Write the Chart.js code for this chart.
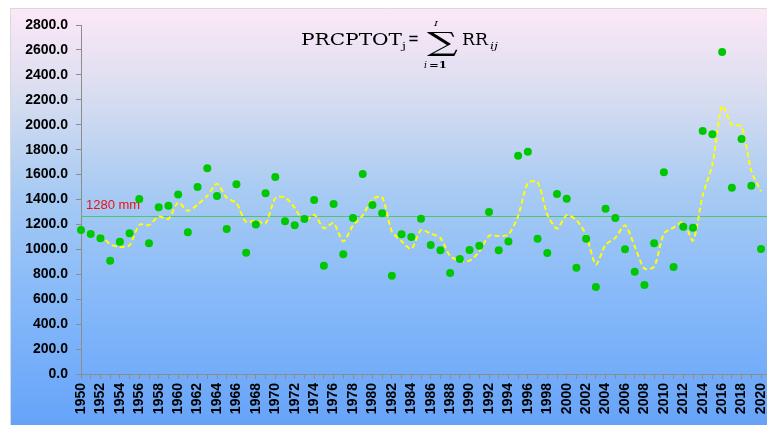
<!DOCTYPE html>
<html><head><meta charset="utf-8">
<script src="https://cdn.jsdelivr.net/npm/chart.js@4.4.0/dist/chart.umd.min.js"></script>
<style>html,body{margin:0;padding:0;background:#fff;overflow:hidden}#wrap{width:767px;height:425px;position:relative}</style>
</head><body><div id="wrap"><canvas id="c" width="767" height="425"></canvas></div>
<script>
const years = ['1950','1951','1952','1953','1954','1955','1956','1957','1958','1959',
'1960','1961','1962','1963','1964','1965','1966','1967','1968','1969',
'1970','1971','1972','1973','1974','1975','1976','1977','1978','1979',
'1980','1981','1982','1983','1984','1985','1986','1987','1988','1989',
'1990','1991','1992','1993','1994','1995','1996','1997','1998','1999',
'2000','2001','2002','2003','2004','2005','2006','2007','2008','2009',
'2010','2011','2012','2013','2014','2015','2016','2017','2018','2019','2020'];

const prcptot = [1155,1123,1089,909,1062,1129,1404,1048,1337,1350,
1441,1137,1500,1650,1428,1163,1522,973,1200,1450,
1580,1225,1193,1244,1396,869,1364,960,1252,1605,
1356,1289,789,1121,1099,1246,1035,992,810,923,
995,1029,1300,992,1064,1751,1784,1086,971,1444,
1407,853,1086,698,1326,1252,1000,821,714,1048,
1618,858,1182,1174,1950,1923,2583,1495,1885,1511,1003];

// 3-year moving average trend line
const movingAvg3 = [null,null,1122,1040,1020,1033,1198,1194,1263,1245,
1376,1309,1359,1429,1526,1414,1371,1219,1232,1208,
1410,1418,1333,1221,1278,1170,1210,1064,1192,1272,
1404,1417,1145,1066,1003,1155,1127,1091,946,908,
909,982,1108,1107,1119,1269,1533,1540,1280,1167,
1274,1235,1115,879,1037,1092,1193,1024,845,861,
1127,1175,1219,1071,1435,1682,2152,2000,1988,1630,1466];

const yTickValues = [0,200,400,600,800,1000,1200,1400,1600,1800,2000,2200,2400,2600,2800];
const meanValue = 1270;
const meanLabel = '1280 mm';

const bgPlugin = {
  id: 'bg',
  beforeDraw(chart) {
    const ctx = chart.ctx;
    ctx.save();
    ctx.fillStyle = '#ffffff';
    ctx.fillRect(0, 0, 767, 425);
    const g = ctx.createLinearGradient(0, 8, 0, 425);
    g.addColorStop(0, '#fde8f7');
    g.addColorStop(0.2, '#dadef0');
    g.addColorStop(0.45, '#a6caf3');
    g.addColorStop(0.7, '#86b9f9');
    g.addColorStop(1, '#66a3f8');
    ctx.fillStyle = g;
    ctx.fillRect(10, 8, 757, 417);
    ctx.strokeStyle = '#d9d9d9';
    ctx.lineWidth = 1;
    ctx.beginPath();
    ctx.moveTo(10.5, 425); ctx.lineTo(10.5, 8.5); ctx.lineTo(767, 8.5);
    ctx.stroke();
    ctx.restore();
  },
  beforeDatasetsDraw(chart) {
    const ctx = chart.ctx;
    const y = chart.scales.y.getPixelForValue(meanValue);
    const left = chart.chartArea.left;
    ctx.save();
    ctx.strokeStyle = '#4fc46c';
    ctx.lineWidth = 1.2;
    ctx.beginPath();
    ctx.moveTo(left, Math.round(y) + 0.5);
    ctx.lineTo(767, Math.round(y) + 0.5);
    ctx.stroke();
    const yb = chart.chartArea.bottom;
    ctx.strokeStyle = '#8c8c8c';
    ctx.lineWidth = 1;
    ctx.beginPath();
    ctx.moveTo(chart.chartArea.right, yb + 0.5);
    ctx.lineTo(767, yb + 0.5);
    ctx.stroke();
    ctx.fillStyle = '#ee1111';
    ctx.font = '13px "Liberation Sans", Arial, sans-serif';
    ctx.textBaseline = 'alphabetic';
    ctx.textAlign = 'left';
    ctx.fillText(meanLabel, left + 5, y - 7);
    ctx.restore();
  },
  afterDraw(chart) {
    const ctx = chart.ctx;
    ctx.save();
    ctx.fillStyle = '#000';
    ctx.textBaseline = 'alphabetic';
    ctx.textAlign = 'left';
    function fit(txt, x, y, w, font) {
      ctx.font = font;
      const m = ctx.measureText(txt).width;
      ctx.save();
      ctx.translate(x, y);
      ctx.scale(w / m, 1);
      ctx.fillText(txt, 0, 0);
      ctx.restore();
    }
    const serif = '"DejaVu Serif", "Liberation Serif", serif';
    fit('PRCPTOT', 301, 45, 101, '16px ' + serif);
    fit('j', 402, 49, 4, '10px ' + serif);
    fit('=', 408, 45, 11, '18px ' + serif);
    fit('\u2211', 427, 51, 31, '26px ' + serif);
    fit('I', 434, 26, 4, 'italic 8px ' + serif);
    fit('i', 424, 68, 3, 'italic 9px ' + serif);
    fit('=1', 429, 68, 18, 'bold 9px ' + serif);
    fit('RR', 462, 45, 26, '16px ' + serif);
    fit('ij', 490, 49, 8, 'italic 10px ' + serif);
    ctx.restore();
  }
};

new Chart(document.getElementById('c'), {
  data: {
    labels: years,
    datasets: [
      {
        type: 'line',
        label: 'PRCPTOT',
        data: prcptot,
        showLine: false,
        pointRadius: 4,
        pointHoverRadius: 4,
        pointBackgroundColor: '#00c800',
        pointBorderColor: '#00c800',
        pointBorderWidth: 0,
        order: 1
      },
      {
        type: 'line',
        label: '3-yr moving average',
        data: movingAvg3,
        borderColor: '#ffff00',
        borderWidth: 2,
        borderDash: [5, 3],
        pointRadius: 0,
        tension: 0.25,
        fill: false,
        spanGaps: false,
        order: 2
      }
    ]
  },
  options: {
    responsive: false,
    devicePixelRatio: 1,
    animation: false,
    layout: { padding: { left: 10, right: 6, top: 25, bottom: 0 } },
    plugins: { legend: { display: false }, tooltip: { enabled: false } },
    scales: {
      x: {
        type: 'category',
        offset: false,
        border: { display: true, color: '#8c8c8c', width: 1 },
        grid: { drawOnChartArea: false, drawTicks: true, tickLength: 5, color: '#8c8c8c' },
        ticks: {
          autoSkip: false,
          maxRotation: 90,
          minRotation: 90,
          padding: 4,
          color: '#000',
          font: { family: '"Liberation Sans", Arial, sans-serif', size: 14, weight: 'bold' },
          callback: function(v, i) { return i % 2 === 0 ? years[i] : ''; }
        },
        afterFit(scale) { scale.height = 51; scale.paddingLeft = 0; scale.paddingRight = 0; }
      },
      y: {
        min: 0,
        max: 2800,
        afterBuildTicks(scale) { scale.ticks = yTickValues.map(v => ({ value: v })); },
        border: { display: true, color: '#8c8c8c', width: 1 },
        grid: { drawOnChartArea: false, drawTicks: true, tickLength: 5, color: '#8c8c8c' },
        ticks: {
          padding: 8,
          color: '#000',
          font: { family: '"Liberation Sans", Arial, sans-serif', size: 14, weight: 'bold' },
          callback: function(v) { return Number(v).toFixed(1); }
        },
        afterFit(scale) { scale.width = 71; scale.paddingTop = 0; scale.paddingBottom = 0; }
      }
    }
  },
  plugins: [bgPlugin]
});
</script>
</body></html>
